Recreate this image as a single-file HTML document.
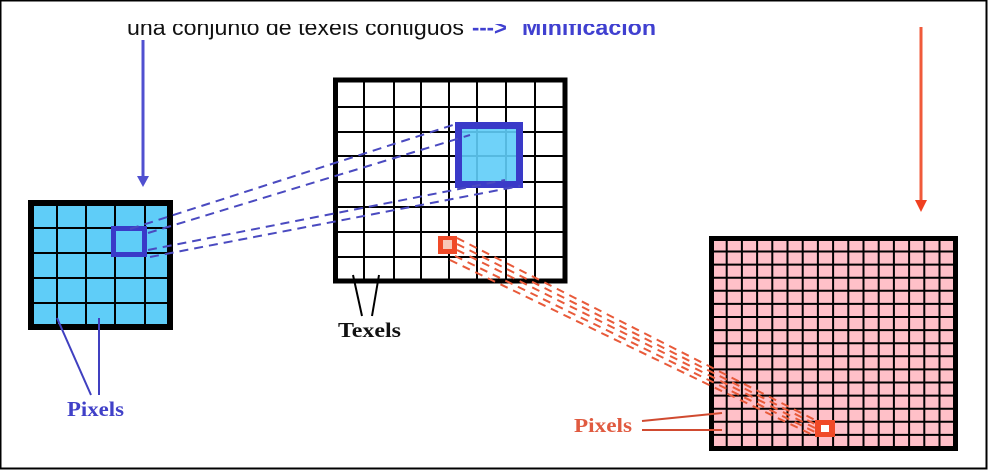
<!DOCTYPE html>
<html><head><meta charset="utf-8"><style>
html,body{margin:0;padding:0;background:#fff}
svg{display:block}
</style></head><body>
<svg width="989" height="471" viewBox="0 0 989 471" xmlns="http://www.w3.org/2000/svg">
<rect x="0" y="0" width="989" height="471" fill="#fff"/>
<rect x="0.5" y="0.5" width="986" height="468" fill="none" stroke="#000" stroke-width="2"/>
<defs><clipPath id="c"><rect x="0" y="24" width="989" height="30"/></clipPath></defs>
<g clip-path="url(#c)" font-family="Liberation Sans, sans-serif" font-size="22">
<text x="127" y="35" fill="#111" textLength="337" lengthAdjust="spacingAndGlyphs">una conjunto de texels contiguos</text>
<text x="472" y="35" fill="#4040d0" font-weight="bold">---&gt;</text>
<text x="522" y="35" fill="#4040d0" font-weight="bold" textLength="134" lengthAdjust="spacingAndGlyphs">Minificacion</text>
</g>
<line x1="143" y1="40" x2="143" y2="178" stroke="#5050d0" stroke-width="3"/>
<polygon points="137,176 149,176 143,187" fill="#5050d0"/>
<line x1="921" y1="27" x2="921" y2="204" stroke="#f05a3a" stroke-width="3"/>
<polygon points="915,200 927,200 921,212" fill="#f04020"/>
<rect x="31" y="203" width="139" height="124" fill="#5fcdf8" stroke="#000" stroke-width="6"/>
<g stroke="#000" stroke-width="2">
<line x1="57" y1="203" x2="57" y2="327"/><line x1="86" y1="203" x2="86" y2="327"/><line x1="115" y1="203" x2="115" y2="327"/><line x1="145" y1="203" x2="145" y2="327"/>
<line x1="31" y1="228" x2="170" y2="228"/><line x1="31" y1="253" x2="170" y2="253"/><line x1="31" y1="278" x2="170" y2="278"/><line x1="31" y1="303" x2="170" y2="303"/>
</g>
<rect x="113.5" y="228.5" width="31" height="26" fill="none" stroke="#3a3ac8" stroke-width="5"/>
<rect x="335.5" y="80" width="229.5" height="201" fill="#fff" stroke="#000" stroke-width="5"/>
<g stroke="#000" stroke-width="2">
<line x1="364" y1="80" x2="364" y2="281"/><line x1="394" y1="80" x2="394" y2="281"/><line x1="421" y1="80" x2="421" y2="281"/><line x1="449" y1="80" x2="449" y2="281"/><line x1="477" y1="80" x2="477" y2="281"/><line x1="506" y1="80" x2="506" y2="281"/><line x1="535" y1="80" x2="535" y2="281"/>
<line x1="335" y1="107" x2="565" y2="107"/><line x1="335" y1="132" x2="565" y2="132"/><line x1="335" y1="156" x2="565" y2="156"/><line x1="335" y1="182" x2="565" y2="182"/><line x1="335" y1="207" x2="565" y2="207"/><line x1="335" y1="232" x2="565" y2="232"/><line x1="335" y1="257" x2="565" y2="257"/>
</g>
<rect x="458.5" y="125.5" width="61" height="59" fill="#5fcdf8" fill-opacity="0.9" stroke="#3a3ac8" stroke-width="7"/>
<g stroke="#4a4ac0" stroke-width="2" stroke-dasharray="9,6" fill="none">
<line x1="130" y1="229" x2="456" y2="124"/>
<line x1="148" y1="233" x2="470" y2="135"/>
<line x1="148" y1="250" x2="505" y2="180"/>
<line x1="150" y1="257" x2="520" y2="186"/>
</g>
<rect x="438" y="236" width="19" height="18" fill="#f04a28"/>
<rect x="443" y="240" width="9" height="9" fill="#f8c8b8"/>
<rect x="711.5" y="238.5" width="244" height="210" fill="#ffc0c8" stroke="#000" stroke-width="5"/>
<g stroke="#000" stroke-width="2">
<line x1="726.7" y1="238" x2="726.7" y2="449"/><line x1="741.9" y1="238" x2="741.9" y2="449"/><line x1="757.1" y1="238" x2="757.1" y2="449"/><line x1="772.3" y1="238" x2="772.3" y2="449"/><line x1="787.5" y1="238" x2="787.5" y2="449"/><line x1="802.7" y1="238" x2="802.7" y2="449"/><line x1="817.9" y1="238" x2="817.9" y2="449"/><line x1="833.1" y1="238" x2="833.1" y2="449"/><line x1="848.3" y1="238" x2="848.3" y2="449"/><line x1="863.5" y1="238" x2="863.5" y2="449"/><line x1="878.7" y1="238" x2="878.7" y2="449"/><line x1="893.9" y1="238" x2="893.9" y2="449"/><line x1="909.1" y1="238" x2="909.1" y2="449"/><line x1="924.3" y1="238" x2="924.3" y2="449"/><line x1="939.5" y1="238" x2="939.5" y2="449"/>
<line x1="711" y1="251.5" x2="956" y2="251.5"/><line x1="711" y1="264.6" x2="956" y2="264.6"/><line x1="711" y1="277.7" x2="956" y2="277.7"/><line x1="711" y1="290.8" x2="956" y2="290.8"/><line x1="711" y1="303.9" x2="956" y2="303.9"/><line x1="711" y1="317" x2="956" y2="317"/><line x1="711" y1="330.1" x2="956" y2="330.1"/><line x1="711" y1="343.2" x2="956" y2="343.2"/><line x1="711" y1="356.3" x2="956" y2="356.3"/><line x1="711" y1="369.4" x2="956" y2="369.4"/><line x1="711" y1="382.5" x2="956" y2="382.5"/><line x1="711" y1="395.6" x2="956" y2="395.6"/><line x1="711" y1="408.7" x2="956" y2="408.7"/><line x1="711" y1="421.8" x2="956" y2="421.8"/><line x1="711" y1="434.9" x2="956" y2="434.9"/>
</g>
<g stroke="#e85a3a" stroke-width="2" stroke-dasharray="8,6" fill="none">
<line x1="457" y1="238" x2="815" y2="420"/>
<line x1="457" y1="244" x2="815" y2="424"/>
<line x1="457" y1="250" x2="815" y2="428"/>
<line x1="455" y1="256" x2="815" y2="432"/>
<line x1="450" y1="260" x2="815" y2="436"/>
</g>
<rect x="815" y="420" width="20" height="17" fill="#f04a28"/>
<rect x="821" y="425" width="8" height="7" fill="#fff"/>
<g stroke="#4040c0" stroke-width="2"><line x1="57" y1="318" x2="91" y2="395"/><line x1="99" y1="318" x2="99" y2="395"/></g>
<text x="67" y="416" font-family="Liberation Serif, serif" font-weight="bold" font-size="21" fill="#4040c8" textLength="57" lengthAdjust="spacingAndGlyphs">Pixels</text>
<g stroke="#000" stroke-width="2"><line x1="353" y1="275" x2="362" y2="316"/><line x1="379" y1="275" x2="372" y2="316"/></g>
<text x="338" y="337" font-family="Liberation Serif, serif" font-weight="bold" font-size="21" fill="#111" textLength="63" lengthAdjust="spacingAndGlyphs">Texels</text>
<g stroke="#d04a30" stroke-width="2"><line x1="642" y1="421" x2="722" y2="413"/><line x1="642" y1="430" x2="722" y2="430"/></g>
<text x="574" y="432" font-family="Liberation Serif, serif" font-weight="bold" font-size="20" fill="#e05a40" textLength="58" lengthAdjust="spacingAndGlyphs">Pixels</text>
</svg>
</body></html>
